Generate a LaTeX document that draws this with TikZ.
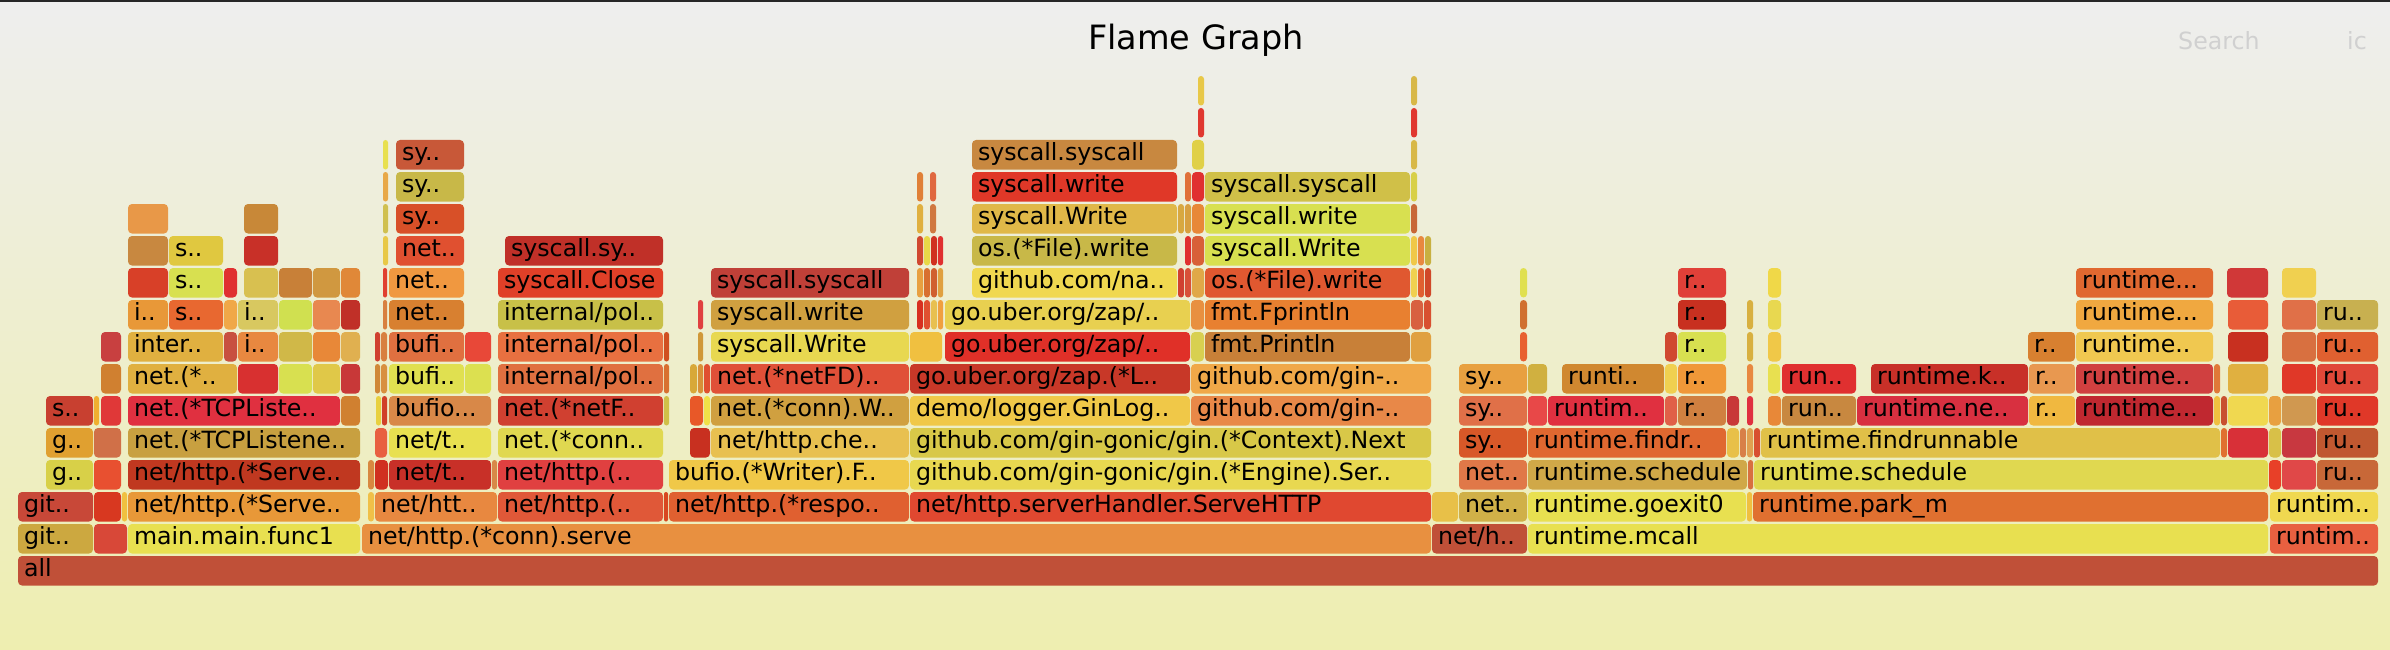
\documentclass[tikz,border=0pt]{standalone}
\usepackage{fontspec}
\setmainfont{DejaVu Sans}
\newcounter{frc}
\tikzset{
  lbl/.style={anchor=base west,inner sep=0pt,outer sep=0pt,text=black,font=\fontsize{23.7}{28}\selectfont},
  ttl/.style={anchor=base,inner sep=0pt,text=black,font=\fontsize{33.5}{40}\selectfont},
  srch/.style={anchor=base west,inner sep=0pt,text={rgb,255:red,208;green,208;blue,208},font=\fontsize{23.7}{28}\selectfont}
}
% box only: x1, x2, row, hex colour
\newcommand\FB[4]{%
  \definecolor{fcol}{HTML}{#4}%
  \pgfmathsetmacro\fry{556-32*#3}%
  \pgfmathsetmacro\frr{min(4,(#2-#1)/2)}%
  \fill[fcol,rounded corners=\frr pt] (#1,\fry) rectangle (#2,\fry+29.5);
}
% box with label
\newcommand\FL[5]{%
  \FB{#1}{#2}{#3}{#4}%
  \stepcounter{frc}%
  \node[lbl] (f\arabic{frc}) at (#1+6,\fry+20.5) {#5};
}
\begin{document}
\begin{tikzpicture}[x=1pt,y=-1pt]
\useasboundingbox (0,0) rectangle (2390,650);
\shade[top color={rgb,255:red,238;green,238;blue,238},bottom color={rgb,255:red,238;green,238;blue,176}] (0,0) rectangle (2390,650);
\fill[black!85] (0,0) rectangle (2390,2);
\node[ttl] (title) at (1196,50) {Flame Graph};
\node[srch] (search) at (2178,50) {Search};
\node[srch] (ic) at (2347,50) {ic};

% row 0
\FL{18}{2378}{0}{C05038}{all}
% row 1
\FL{18}{93}{1}{CCA840}{git..}
\FB{94}{127}{1}{D84838}
\FL{128}{360}{1}{E8E050}{main.main.func1}
\FL{362}{1431}{1}{E89040}{net/http.(*conn).serve}
\FL{1432}{1527}{1}{C05038}{net/h..}
\FL{1528}{2268}{1}{E8E050}{runtime.mcall}
\FL{2270}{2378}{1}{E86040}{runtim..}
% row 2
\FL{18}{93}{2}{C84838}{git..}
\FB{94}{121}{2}{D83820}
\FB{122}{127}{2}{F0C040}
\FL{128}{360}{2}{E89838}{net/http.(*Serve..}
\FB{368}{374}{2}{F0C048}
\FL{375}{497}{2}{E88840}{net/htt..}
\FL{498}{663}{2}{E05838}{net/http.(..}
\FB{664}{668}{2}{D84820}
\FL{669}{909}{2}{E06030}{net/http.(*respo..}
\FL{910}{1431}{2}{E04830}{net/http.serverHandler.ServeHTTP}
\FB{1432}{1458}{2}{E8C048}
\FL{1459}{1527}{2}{D0B048}{net..}
\FL{1528}{1746}{2}{E8E050}{runtime.goexit0}
\FB{1747}{1752}{2}{F0C040}
\FL{1753}{2268}{2}{E07030}{runtime.park\_m}
\FL{2270}{2378}{2}{F0D850}{runtim..}
% row 3
\FL{46}{93}{3}{D8D048}{g..}
\FB{94}{121}{3}{E85030}
\FL{128}{360}{3}{C03820}{net/http.(*Serve..}
\FB{368}{374}{3}{D88840}
\FB{375}{388}{3}{D03020}
\FL{389}{491}{3}{C83028}{net/t..}
\FB{492}{497}{3}{D88848}
\FL{498}{663}{3}{E04040}{net/http.(..}
\FL{669}{909}{3}{F0C848}{bufio.(*Writer).F..}
\FL{910}{1431}{3}{E8D850}{github.com/gin-gonic/gin.(*Engine).Ser..}
\FL{1459}{1527}{3}{E07848}{net..}
\FL{1528}{1747}{3}{D0A848}{runtime.schedule}
\FB{1748}{1753}{3}{D87040}
\FL{1754}{2268}{3}{E0D850}{runtime.schedule}
\FB{2269}{2281}{3}{E84028}
\FB{2282}{2316}{3}{E04848}
\FL{2317}{2378}{3}{C86838}{ru..}
% row 4
\FL{46}{93}{4}{E0A030}{g..}
\FB{94}{121}{4}{D07048}
\FL{128}{360}{4}{C8A040}{net.(*TCPListene..}
\FB{375}{387}{4}{E86040}
\FL{389}{491}{4}{E8E050}{net/t..}
\FL{498}{663}{4}{E0D850}{net.(*conn..}
\FB{690}{710}{4}{C83020}
\FL{711}{909}{4}{E8C050}{net/http.che..}
\FL{910}{1431}{4}{D8C848}{github.com/gin-gonic/gin.(*Context).Next}
\FL{1459}{1527}{4}{D85828}{sy..}
\FL{1528}{1726}{4}{E06830}{runtime.findr..}
\FB{1727}{1739}{4}{E8C048}
\FB{1740}{1746}{4}{D88048}
\FB{1747}{1753}{4}{E0A050}
\FB{1754}{1760}{4}{D85030}
\FL{1761}{2220}{4}{E0C048}{runtime.findrunnable}
\FB{2221}{2227}{4}{E07030}
\FB{2228}{2268}{4}{D83038}
\FB{2269}{2281}{4}{D8C048}
\FB{2282}{2316}{4}{C83840}
\FL{2317}{2378}{4}{C05830}{ru..}
% row 5
\FL{46}{93}{5}{C84030}{s..}
\FB{94}{99}{5}{F0B030}
\FB{101}{121}{5}{E03838}
\FL{128}{340}{5}{E03040}{net.(*TCPListe..}
\FB{341}{360}{5}{D08030}
\FB{376}{381}{5}{E8D040}
\FB{382}{387}{5}{D04028}
\FL{389}{491}{5}{D88848}{bufio...}
\FL{498}{663}{5}{D04030}{net.(*netF..}
\FB{664}{669}{5}{D0C048}
\FB{690}{703}{5}{E85828}
\FB{704}{710}{5}{F0E048}
\FL{711}{909}{5}{D0A040}{net.(*conn).W..}
\FL{910}{1190}{5}{F0C848}{demo/logger.GinLog..}
\FL{1191}{1431}{5}{E88848}{github.com/gin-..}
\FL{1459}{1527}{5}{E07048}{sy..}
\FB{1528}{1547}{5}{E84848}
\FL{1548}{1664}{5}{E03040}{runtim..}
\FB{1665}{1677}{5}{E06048}
\FL{1678}{1726}{5}{D08040}{r..}
\FB{1727}{1739}{5}{C83838}
\FB{1747}{1753}{5}{E03040}
\FB{1768}{1781}{5}{E88838}
\FL{1782}{1856}{5}{C88840}{run..}
\FL{1857}{2028}{5}{D83040}{runtime.ne..}
\FL{2029}{2075}{5}{F0B840}{r..}
\FL{2076}{2213}{5}{C02830}{runtime...}
\FB{2214}{2220}{5}{F0C040}
\FB{2221}{2227}{5}{C85030}
\FB{2228}{2268}{5}{F0D850}
\FB{2269}{2281}{5}{E8A040}
\FB{2282}{2316}{5}{D09850}
\FL{2317}{2378}{5}{E03828}{ru..}
% row 6
\FB{101}{121}{6}{D08030}
\FL{128}{237}{6}{E0B040}{net.(*..}
\FB{238}{278}{6}{D83030}
\FB{279}{312}{6}{D8E050}
\FB{313}{340}{6}{E0C848}
\FB{341}{360}{6}{C83838}
\FB{375}{380}{6}{D08838}
\FB{381}{387}{6}{D89040}
\FL{389}{464}{6}{E0E050}{bufi..}
\FB{465}{491}{6}{DCE050}
\FL{498}{663}{6}{E07040}{internal/pol..}
\FB{664}{669}{6}{D87030}
\FB{690}{697}{6}{D8A838}
\FB{698}{703}{6}{D89038}
\FB{704}{710}{6}{E05030}
\FL{711}{909}{6}{E05038}{net.(*netFD)..}
\FL{910}{1190}{6}{C83828}{go.uber.org/zap.(*L..}
\FL{1191}{1431}{6}{F0A848}{github.com/gin-..}
\FL{1459}{1527}{6}{E8A040}{sy..}
\FB{1528}{1547}{6}{D0B040}
\FL{1562}{1664}{6}{D08830}{runti..}
\FB{1665}{1677}{6}{F0D050}
\FL{1678}{1726}{6}{F09838}{r..}
\FB{1747}{1753}{6}{E88840}
\FB{1768}{1780}{6}{E8E050}
\FL{1782}{1856}{6}{E03030}{run..}
\FL{1871}{2028}{6}{C83028}{runtime.k..}
\FL{2029}{2075}{6}{E89850}{r..}
\FL{2076}{2213}{6}{D04040}{runtime..}
\FB{2214}{2220}{6}{E07838}
\FB{2228}{2268}{6}{E0B040}
\FB{2282}{2316}{6}{E03828}
\FL{2317}{2378}{6}{E04838}{ru..}
% row 7
\FB{101}{121}{7}{C84040}
\FL{128}{223}{7}{E0B040}{inter..}
\FB{224}{237}{7}{C85040}
\FL{238}{278}{7}{E88840}{i..}
\FB{279}{312}{7}{D0B848}
\FB{313}{340}{7}{E88838}
\FB{341}{360}{7}{E0B050}
\FB{375}{380}{7}{D04030}
\FB{381}{387}{7}{D88040}
\FL{389}{464}{7}{E07040}{bufi..}
\FB{465}{491}{7}{E84838}
\FL{498}{663}{7}{E87040}{internal/pol..}
\FB{664}{669}{7}{D05020}
\FB{698}{703}{7}{D09838}
\FL{711}{909}{7}{E8D850}{syscall.Write}
\FB{910}{942}{7}{F0C040}
\FL{945}{1190}{7}{E03028}{go.uber.org/zap/..}
\FB{1191}{1204}{7}{D8D050}
\FL{1205}{1410}{7}{C88038}{fmt.Println}
\FB{1411}{1431}{7}{E0A040}
\FB{1520}{1527}{7}{E86030}
\FB{1665}{1677}{7}{D04830}
\FL{1678}{1726}{7}{D8E050}{r..}
\FB{1747}{1753}{7}{D8B040}
\FB{1768}{1781}{7}{F0C848}
\FL{2028}{2075}{7}{D88030}{r..}
\FL{2076}{2213}{7}{F0C850}{runtime..}
\FB{2228}{2268}{7}{C83020}
\FB{2282}{2316}{7}{D87040}
\FL{2317}{2378}{7}{E06030}{ru..}
% row 8
\FL{128}{168}{8}{E89838}{i..}
\FL{169}{223}{8}{E86830}{s..}
\FB{224}{237}{8}{F0A848}
\FL{238}{278}{8}{D8C860}{i..}
\FB{279}{312}{8}{D0E050}
\FB{313}{340}{8}{E88850}
\FB{341}{360}{8}{C03028}
\FB{383}{387}{8}{D88040}
\FL{389}{464}{8}{D88030}{net..}
\FL{498}{663}{8}{C8C048}{internal/pol..}
\FB{698}{703}{8}{E04040}
\FL{711}{909}{8}{D0A040}{syscall.write}
\FB{917}{923}{8}{D83020}
\FB{924}{930}{8}{E05030}
\FB{931}{937}{8}{E8C050}
\FB{938}{943}{8}{F0A040}
\FL{945}{1190}{8}{E8D050}{go.uber.org/zap/..}
\FB{1191}{1204}{8}{E89040}
\FL{1205}{1410}{8}{E88030}{fmt.Fprintln}
\FB{1411}{1423}{8}{D86040}
\FB{1424}{1431}{8}{D85030}
\FB{1520}{1527}{8}{D07030}
\FL{1678}{1726}{8}{C83020}{r..}
\FB{1747}{1753}{8}{D8B040}
\FB{1768}{1781}{8}{E8D850}
\FL{2076}{2213}{8}{F0A840}{runtime...}
\FB{2228}{2268}{8}{E85C38}
\FB{2282}{2316}{8}{E07048}
\FL{2317}{2378}{8}{C8B050}{ru..}
% row 9
\FB{128}{168}{9}{D84028}
\FL{169}{223}{9}{D8E050}{s..}
\FB{224}{237}{9}{E03030}
\FB{244}{278}{9}{D8C050}
\FB{279}{312}{9}{C88038}
\FB{313}{340}{9}{D09840}
\FB{341}{360}{9}{E08838}
\FB{383}{387}{9}{E04030}
\FL{389}{464}{9}{F09840}{net..}
\FL{498}{663}{9}{E04028}{syscall.Close}
\FL{711}{909}{9}{C04038}{syscall.syscall}
\FB{917}{923}{9}{E8A040}
\FB{924}{930}{9}{D87030}
\FB{931}{937}{9}{D06030}
\FB{938}{943}{9}{E0A040}
\FL{972}{1177}{9}{F0D850}{github.com/na..}
\FB{1178}{1184}{9}{D04030}
\FB{1185}{1191}{9}{D85038}
\FB{1192}{1204}{9}{E0A848}
\FL{1205}{1410}{9}{E05830}{os.(*File).write}
\FB{1411}{1417}{9}{F0D050}
\FB{1418}{1424}{9}{E06030}
\FB{1425}{1431}{9}{D04828}
\FB{1520}{1527}{9}{E0E050}
\FL{1678}{1726}{9}{E04038}{r..}
\FB{1768}{1781}{9}{F0D848}
\FL{2076}{2213}{9}{E06830}{runtime...}
\FB{2227}{2268}{9}{D03838}
\FB{2282}{2316}{9}{F0D050}
% row 10
\FB{128}{168}{10}{C88840}
\FL{169}{223}{10}{E0C840}{s..}
\FB{244}{278}{10}{C83028}
\FB{383}{388}{10}{E8C848}
\FL{396}{464}{10}{E05030}{net..}
\FL{505}{663}{10}{C03028}{syscall.sy..}
\FB{917}{923}{10}{D04830}
\FB{924}{930}{10}{E8D848}
\FB{931}{937}{10}{D03020}
\FB{938}{943}{10}{E03030}
\FL{972}{1177}{10}{C8B848}{os.(*File).write}
\FB{1185}{1191}{10}{E03030}
\FB{1192}{1204}{10}{D86038}
\FL{1205}{1410}{10}{D8E050}{syscall.Write}
\FB{1411}{1417}{10}{F0C848}
\FB{1418}{1424}{10}{E88840}
\FB{1425}{1431}{10}{C8B040}
% row 11
\FB{128}{168}{11}{E89848}
\FB{244}{278}{11}{C88838}
\FB{383}{388}{11}{D0C050}
\FL{396}{464}{11}{D85028}{sy..}
\FB{917}{923}{11}{E0B040}
\FB{930}{936}{11}{D07840}
\FL{972}{1177}{11}{E0B848}{syscall.Write}
\FB{1178}{1184}{11}{D8A840}
\FB{1185}{1191}{11}{D8A040}
\FB{1192}{1204}{11}{E88838}
\FL{1205}{1410}{11}{D8E050}{syscall.write}
\FB{1411}{1417}{11}{C86838}
% row 12
\FB{383}{388}{12}{E8A848}
\FL{396}{464}{12}{C8B848}{sy..}
\FB{917}{923}{12}{E08038}
\FB{930}{936}{12}{E06840}
\FL{972}{1177}{12}{E03828}{syscall.write}
\FB{1185}{1191}{12}{E07038}
\FB{1192}{1204}{12}{E03030}
\FL{1205}{1410}{12}{D0C048}{syscall.syscall}
\FB{1411}{1417}{12}{D8D048}
% row 13
\FB{383}{388}{13}{E8E050}
\FL{396}{464}{13}{C85838}{sy..}
\FL{972}{1177}{13}{C88840}{syscall.syscall}
\FB{1192}{1204}{13}{E0D048}
\FB{1411}{1417}{13}{D8B848}
% row 14
\FB{1198}{1204}{14}{E03830}
\FB{1411}{1417}{14}{E03830}
% row 15
\FB{1198}{1204}{15}{E8C848}
\FB{1411}{1417}{15}{D8B848}
\end{tikzpicture}
\end{document}
